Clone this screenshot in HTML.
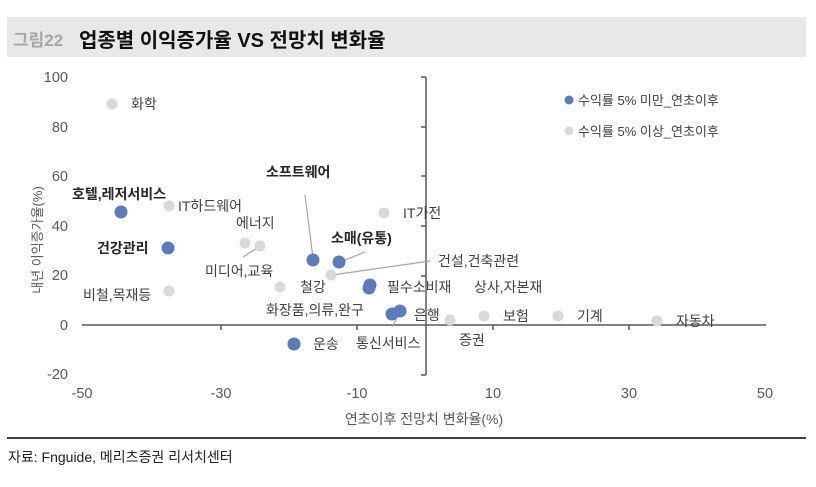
<!DOCTYPE html>
<html><head><meta charset="utf-8"><style>
body{margin:0;background:#fff;width:816px;height:482px;overflow:hidden;font-family:"Liberation Sans","Noto Sans CJK KR",sans-serif;}
</style></head><body>
<svg width="816" height="482" xmlns="http://www.w3.org/2000/svg" font-family="Liberation Sans, Noto Sans CJK KR, sans-serif">
<rect x="7" y="17" width="799" height="40" fill="#e8e8e8"/>
<text x="13" y="46" font-size="17" font-weight="bold" fill="#a6a6a6">그림22</text>
<text x="79" y="47" font-size="20" font-weight="bold" fill="#111">업종별 이익증가율 VS 전망치 변화율</text>
<g font-size="14.5" fill="#595959" text-anchor="end">
<text x="68" y="82">100</text><text x="68" y="132">80</text><text x="68" y="181">60</text>
<text x="68" y="231">40</text><text x="68" y="280">20</text><text x="68" y="330">0</text><text x="68" y="379">-20</text>
</g>
<g font-size="14.5" fill="#595959" text-anchor="middle">
<text x="82" y="398">-50</text><text x="221" y="398">-30</text><text x="357" y="398">-10</text>
<text x="493" y="398">10</text><text x="629" y="398">30</text><text x="765" y="398">50</text>
</g>
<text x="424" y="424" font-size="14" fill="#595959" text-anchor="middle">연초이후 전망치 변화율(%)</text>
<text transform="translate(42,240) rotate(-90)" font-size="13" fill="#595959" text-anchor="middle">내년 이익증가율(%)</text>
<g stroke="#595959" stroke-width="1.5">
<line x1="426" y1="77" x2="426" y2="375"/><line x1="82" y1="325" x2="766" y2="325"/>
<line x1="221" y1="325" x2="221" y2="330"/><line x1="357" y1="325" x2="357" y2="330"/>
<line x1="493" y1="325" x2="493" y2="330"/><line x1="629" y1="325" x2="629" y2="330"/>
<line x1="426" y1="127" x2="421" y2="127"/><line x1="426" y1="176" x2="421" y2="176"/>
<line x1="426" y1="226" x2="421" y2="226"/><line x1="426" y1="276" x2="421" y2="276"/>
<line x1="426" y1="375" x2="421" y2="375"/><line x1="426" y1="77" x2="421" y2="77"/>
</g>
<g stroke="#a6a6a6" stroke-width="1.2">
<line x1="305" y1="195" x2="313" y2="258"/><line x1="365" y1="252" x2="340" y2="262"/>
<line x1="430" y1="261" x2="332" y2="275"/><line x1="243" y1="257" x2="260" y2="246"/>
<line x1="392" y1="327" x2="400" y2="312"/>
</g>
<g fill="#d9d9d9">
<circle cx="112" cy="104" r="5.5"/><circle cx="169" cy="206" r="5.5"/><circle cx="169" cy="291" r="5.5"/>
<circle cx="245" cy="243" r="5.5"/><circle cx="260" cy="246" r="5.5"/><circle cx="280" cy="287" r="5.5"/>
<circle cx="331" cy="275" r="5.5"/><circle cx="384" cy="213" r="5.5"/><circle cx="450" cy="320" r="5.5"/>
<circle cx="484" cy="316" r="5.5"/><circle cx="558" cy="316" r="5.5"/><circle cx="657" cy="321" r="5.5"/>
<circle cx="569" cy="131" r="4.5"/>
</g>
<g fill="#5b7bbd">
<circle cx="121" cy="212" r="6.5"/><circle cx="168" cy="248" r="6.5"/><circle cx="313" cy="260" r="6.5"/>
<circle cx="339" cy="262" r="6.5"/><circle cx="370" cy="285" r="6.5"/><circle cx="369" cy="288" r="6.5"/>
<circle cx="392" cy="314" r="6.5"/><circle cx="400" cy="311" r="6.5"/><circle cx="294" cy="344" r="6.5"/>
<circle cx="569" cy="100" r="4.5"/>
</g>
<g font-size="14" fill="#404040">
<text x="131" y="109">화학</text>
<text x="178" y="211">IT하드웨어</text>
<text x="236" y="228">에너지</text>
<text x="205" y="276">미디어,교육</text>
<text x="83" y="300">비철,목재등</text>
<text x="300" y="292">철강</text>
<text x="266" y="315">화장품,의류,완구</text>
<text x="403" y="218">IT가전</text>
<text x="438" y="266">건설,건축관련</text>
<text x="387" y="292">필수소비재</text>
<text x="474" y="292">상사,자본재</text>
<text x="414" y="320">은행</text>
<text x="503" y="321">보험</text>
<text x="577" y="321">기계</text>
<text x="676" y="326">자동차</text>
<text x="459" y="345">증권</text>
<text x="313" y="349">운송</text>
<text x="356" y="348">통신서비스</text>
<text x="578" y="105" font-size="13">수익률 5% 미만_연초이후</text>
<text x="578" y="136" font-size="13">수익률 5% 이상_연초이후</text>
</g>
<g font-size="14" fill="#262626" font-weight="bold">
<text x="72" y="199">호텔,레저서비스</text>
<text x="97" y="253">건강관리</text>
<text x="266" y="177">소프트웨어</text>
<text x="331" y="243">소매(유통)</text>
</g>
<line x1="7" y1="438" x2="806" y2="438" stroke="#000" stroke-width="1.5"/>
<text x="8" y="462" font-size="14" fill="#222">자료: Fnguide, 메리츠증권 리서치센터</text>
</svg>
</body></html>
